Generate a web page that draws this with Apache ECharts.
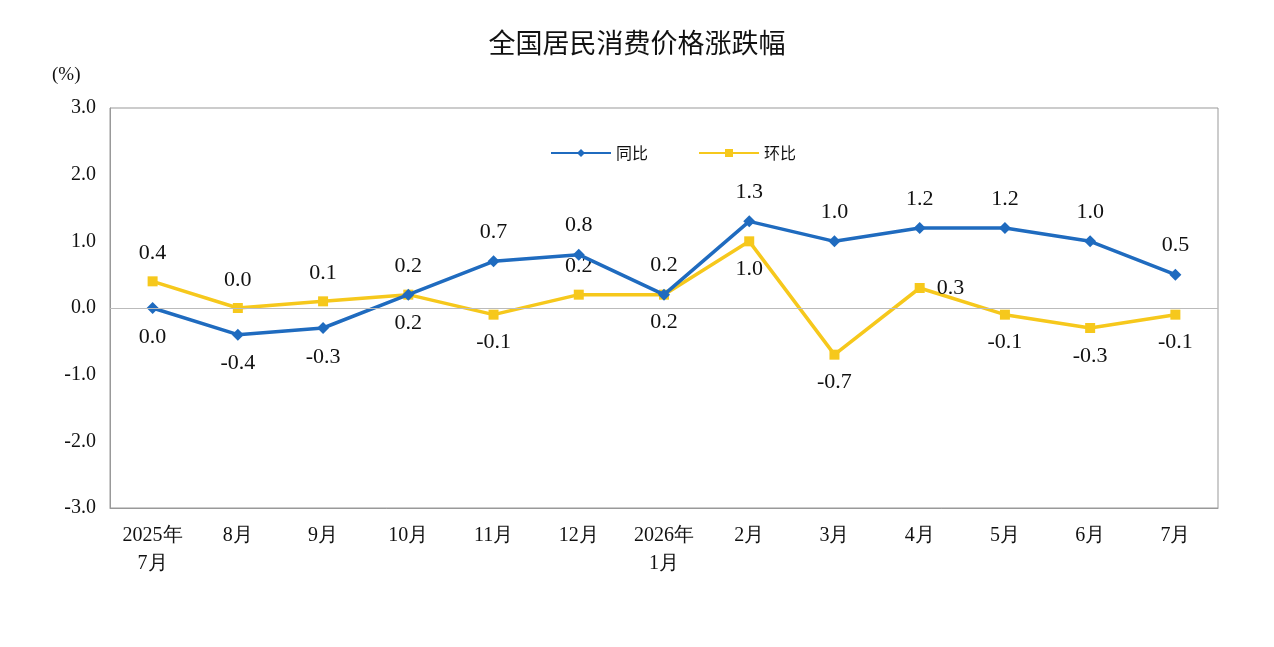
<!DOCTYPE html>
<html><head><meta charset="utf-8">
<script src="https://cdn.jsdelivr.net/npm/echarts@6/dist/echarts.min.js"></script>
<style>html,body{margin:0;background:#fff}#c{width:1274px;height:647px}</style>
</head><body><div id="c"></div>
<script>
const categories=['2025年\n7月','8月','9月','10月','11月','12月','2026年\n1月','2月','3月','4月','5月','6月','7月'];
const yoy=[0.0,-0.4,-0.3,0.2,0.7,0.8,0.2,1.3,1.0,1.2,1.2,1.0,0.5];
const mom=[0.4,0.0,0.1,0.2,-0.1,0.2,0.2,1.0,-0.7,0.3,-0.1,-0.3,-0.1];
const yoyPos=['bottom','bottom','bottom','bottom','top','top','top','top','top','top','top','top','top'];
const momPos=['top','top','top','top','bottom','top','bottom','bottom','bottom','right','bottom','bottom','bottom'];
const lbl={fontFamily:'Liberation Serif',fontSize:22,color:'#111',distance:12,formatter:p=>p.value.toFixed(1)};
const chart=echarts.init(document.getElementById('c'));
chart.setOption({
 animation:false,
 title:{text:'全国居民消费价格涨跌幅',left:'center',top:24,textStyle:{fontFamily:'Noto Sans CJK SC',fontSize:27,fontWeight:'normal',color:'#111'}},
 graphic:[{type:'text',left:52,top:66,style:{text:'(%)',font:'19px "Liberation Serif"',fill:'#111'}}],
 legend:{top:140,left:545,itemGap:50,itemWidth:60,itemHeight:10,textStyle:{fontFamily:'Noto Sans CJK SC',fontSize:16,color:'#111'},
  data:['同比','环比']},
 grid:{left:110,right:56,top:108,bottom:139,show:true,borderColor:'#999',borderWidth:1},
 xAxis:{type:'category',data:categories,boundaryGap:true,
  axisLine:{onZero:false,lineStyle:{color:'#999'}},axisTick:{show:false},
  axisLabel:{fontFamily:'Liberation Serif',fontSize:20,color:'#111',margin:14,lineHeight:28}},
 yAxis:{type:'value',min:-3,max:3,interval:1,
  axisLine:{show:true,lineStyle:{color:'#999'}},axisTick:{show:false},splitLine:{show:false},
  axisLabel:{fontFamily:'Liberation Serif',fontSize:20,color:'#111',formatter:v=>v.toFixed(1),margin:14}},
 series:[
  {name:'同比',type:'line',data:yoy.map((v,i)=>({value:v,label:{position:yoyPos[i]}})),color:'#1f6bbf',
   lineStyle:{width:3.5},symbol:'diamond',symbolSize:12,label:{show:true,...lbl},z:3},
  {name:'环比',type:'line',data:mom.map((v,i)=>({value:v,label:{position:momPos[i]}})),color:'#f6c81c',
   lineStyle:{width:3.5},symbol:'rect',symbolSize:10,label:{show:true,...lbl},z:2,
   markLine:{silent:true,symbol:'none',label:{show:false},lineStyle:{color:'#bbb',type:'solid',width:1},data:[{yAxis:0}]}}
 ]
});
</script></body></html>
